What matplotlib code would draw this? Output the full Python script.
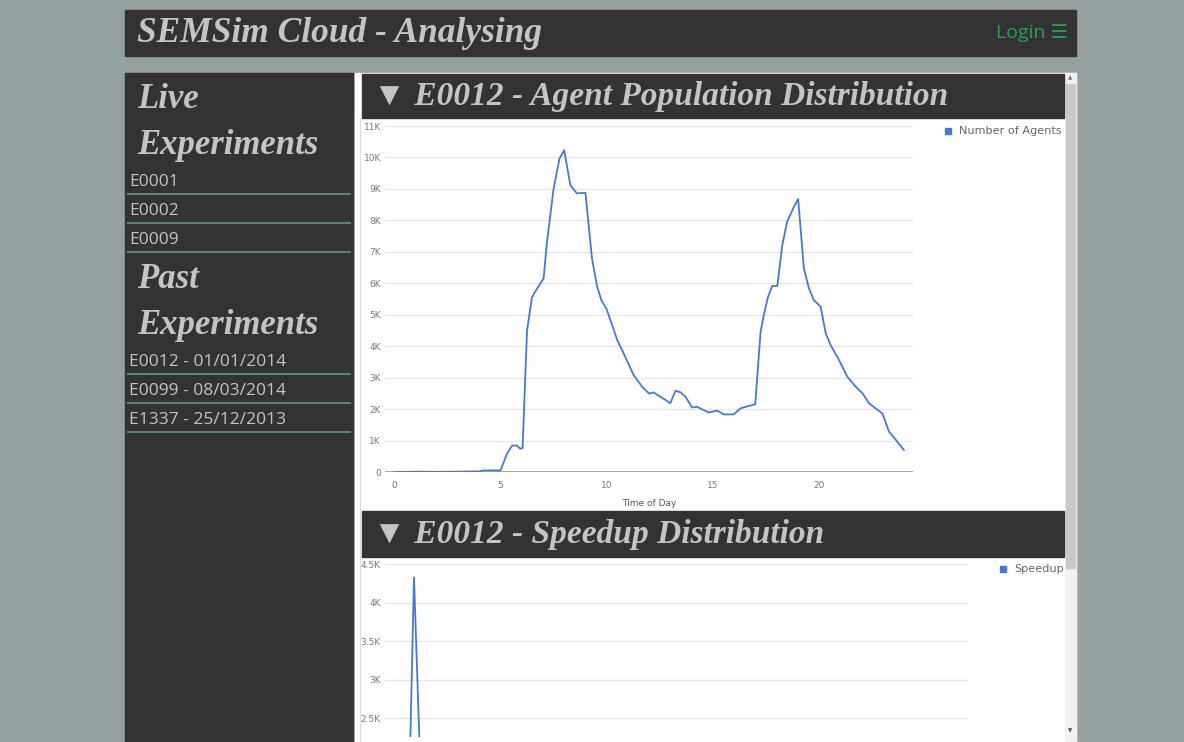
import matplotlib
matplotlib.use("Agg")
import matplotlib.pyplot as plt
from matplotlib.patches import Rectangle

# agent population over the day (hour, number of agents)
hours = [0, 1, 2, 3, 4, 4.2, 5.0, 5.3, 5.55, 5.77, 5.93, 6.04, 6.25, 6.48, 6.6,
         7.03, 7.19, 7.5, 7.78, 8.0, 8.29, 8.6, 9.0, 9.31, 9.55, 9.75, 10.0,
         10.5, 10.8, 11.27, 11.67, 12.0, 12.2, 12.53, 12.77, 13.0, 13.24, 13.48,
         13.71, 14.03, 14.26, 14.5, 14.81, 15.2, 15.52, 15.99, 16.3, 16.54, 17.0,
         17.25, 17.4, 17.6, 17.8, 18.04, 18.27, 18.5, 18.82, 19.02, 19.29, 19.53,
         19.76, 20.08, 20.32, 20.55, 20.94, 21.34, 21.73, 22.05, 22.36, 22.67,
         22.99, 23.3, 23.62, 24.0]
agents = [5, 20, 15, 20, 30, 60, 60, 580, 850, 850, 750, 770, 4500, 5550, 5700,
          6160, 7320, 9000, 9970, 10230, 9120, 8860, 8880, 6790, 5900, 5470, 5180,
          4200, 3780, 3090, 2720, 2500, 2540, 2400, 2300, 2190, 2590, 2540,
          2400, 2060, 2080, 2000, 1900, 1960, 1840, 1840, 2030, 2080, 2160,
          4460, 4990, 5570, 5920, 5920, 7200, 7960, 8430, 8680, 6480, 5840,
          5470, 5260, 4410, 4040, 3570, 3030, 2720, 2510, 2190, 2030,
          1870, 1290, 1030, 710]
agent_ticks = list(range(0, 11001, 1000))
agent_labels = ["0"] + ["%dK" % (v // 1000) for v in agent_ticks[1:]]
hour_ticks = [0, 5, 10, 15, 20]

# speedup distribution (only the top of the spike is in view)
speedup_bins = list(range(0, 12))
speedup = [0, 120, 874, 4330, 1984, 850, 420, 260, 150, 90, 60, 40]
speedup_ticks = [2500, 3000, 3500, 4000, 4500]
speedup_labels = ["2.5K", "3K", "3.5K", "4K", "4.5K"]

live_experiments = ["E0001", "E0002", "E0009"]
past_experiments = ["E0012 - 01/01/2014", "E0099 - 08/03/2014", "E1337 - 25/12/2013"]

W, H = 1184, 742
BG = "#95a0a1"
DARK = "#333333"
LIGHT = "#c4c4c4"
BLUE = "#4a78cf"
SCRIPT = ["Liberation Serif", "DejaVu Sans"]


def px_axes(fig, x0, y0, x1, y1):
    # axes placed by pixel box (top-left origin)
    return fig.add_axes([x0 / W, 1 - y1 / H, (x1 - x0) / W, (y1 - y0) / H])


def script_text(ax, x, y, s, size):
    ax.text(x, y, s, family=SCRIPT, style="italic", weight="bold",
            fontsize=size, color=LIGHT, va="center")


fig = plt.figure(figsize=(W / 100, H / 100), dpi=100)
fig.patch.set_facecolor(BG)

ui = fig.add_axes([0, 0, 1, 1])
ui.set_xlim(0, W)
ui.set_ylim(H, 0)
ui.axis("off")

# top bar
ui.add_patch(Rectangle((125, 10), 951, 46, color=DARK))
script_text(ui, 137, 33, "SEMSim Cloud - Analysing", 25.5)
ui.text(1068, 33, "Login \u2630", family=["Open Sans", "DejaVu Sans"], fontsize=14,
        color="#22a35a", ha="right", va="center")

# sidebar
ui.add_patch(Rectangle((125, 73), 228, 669, color=DARK))
script_text(ui, 137, 100, "Live", 25)
script_text(ui, 137, 146, "Experiments", 25)
for i, name in enumerate(live_experiments):
    y = 182 + i * 29
    ui.text(129, y, name, family="Open Sans", fontsize=12.5, color=LIGHT, va="center")
    ui.plot([128, 350], [y + 12, y + 12], color="#5f8077", lw=1.5)
script_text(ui, 137, 280, "Past", 25)
script_text(ui, 137, 326, "Experiments", 25)
for i, name in enumerate(past_experiments):
    y = 362 + i * 29
    ui.text(129, y, name, family="Open Sans", fontsize=12.5, color=LIGHT, va="center")
    ui.plot([128, 350], [y + 12, y + 12], color="#5f8077", lw=1.5)

# main panel + scrollbar
ui.add_patch(Rectangle((355, 73), 721, 669, color="white"))
ui.plot([360, 360], [118, 742], color="#dddddd", lw=1)
ui.add_patch(Rectangle((1065, 73), 11, 669, color="#f1f1f1"))
ui.add_patch(Rectangle((1066, 84), 9, 484, color="#c8c8c8"))
ui.text(1070.5, 78, "\u25b2", fontsize=4, color="#777777", ha="center", va="center")
ui.text(1070.5, 731, "\u25bc", fontsize=4, color="#555555", ha="center", va="center")

# chart headers
ui.add_patch(Rectangle((362, 74), 702, 44, color=DARK))
script_text(ui, 373, 97, "\u25bc E0012 - Agent Population Distribution", 24)
ui.add_patch(Rectangle((362, 511), 702, 46, color=DARK))
script_text(ui, 373, 535, "\u25bc E0012 - Speedup Distribution", 24)

# legends
ui.add_patch(Rectangle((945, 128), 6, 6, color=BLUE))
ui.text(959, 131, "Number of Agents", fontsize=8.1, color="#666666", va="center")
ui.add_patch(Rectangle((1000, 566), 6, 6, color=BLUE))
ui.text(1014, 569, "Speedup", fontsize=8.1, color="#666666", va="center")


def style_chart(ax):
    ax.set_facecolor("none")
    for s in ax.spines.values():
        s.set_visible(False)
    ax.grid(axis="y", color="#e6e6e6", lw=1)
    ax.set_axisbelow(True)
    ax.tick_params(length=0, labelsize=6.5, labelcolor="#777777")


# agent population chart
ax1 = px_axes(fig, 385, 126, 913, 472.3)
style_chart(ax1)
ax1.plot(hours, agents, color=BLUE, lw=1.3)
ax1.axhline(0, color="#999999", lw=1.2, zorder=1)
ax1.set_ylim(0, 11000)
ax1.set_xlim(-0.44, 24.43)
ax1.set_yticks(agent_ticks)
ax1.set_yticklabels(agent_labels)
ax1.set_xticks(hour_ticks)
ax1.tick_params(axis="x", pad=6)
ax1.tick_params(axis="y", pad=3)
ax1.set_xlabel("Time of Day", fontsize=6.5, color="#555555", labelpad=7)

# speedup chart, clipped by the bottom of the page
ax2 = px_axes(fig, 385, 564.3, 968, 737)
style_chart(ax2)
ax2.plot(speedup_bins, speedup, color=BLUE, lw=1.3)
ax2.set_ylim(2257, 4500)
ax2.set_xlim(-1.83, 95.3)
ax2.set_yticks(speedup_ticks)
ax2.set_yticklabels(speedup_labels)
ax2.set_xticks([])
ax2.tick_params(axis="y", pad=3)

fig.savefig("out.png", dpi=100, facecolor=fig.get_facecolor())
